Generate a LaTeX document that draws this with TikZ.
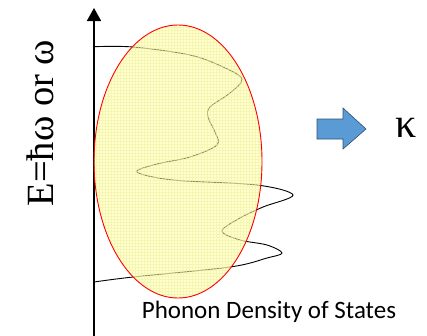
\documentclass[tikz,border=0pt]{standalone}
\usepackage{fontspec}
\setmainfont{Liberation Serif}
\newfontfamily\calib{Carlito}
\usetikzlibrary{arrows.meta,shapes.geometric}
\definecolor{fillY}{HTML}{FFFFB0}
\definecolor{gridY}{HTML}{EEEE90}
\definecolor{arrBlue}{HTML}{5B9BD5}
\definecolor{arrEdge}{HTML}{2F4F6F}
\tikzset{
  axisline/.style={line width=1.8pt,-{Triangle[length=13pt,width=14pt]}},
  dos/.style={line width=0.9pt,black},
  ellfill/.style={draw=none,fill=fillY,fill opacity=0.55},
  fatarrow/.style={fill=arrBlue,draw=arrEdge,line width=0.6pt,line join=miter},
  lbl/.style={inner sep=0pt,text=black}
}
\begin{document}
\begin{tikzpicture}[x=1pt,y=-1pt]
\useasboundingbox (0,0) rectangle (427,335);
% axis
\coordinate (axbot) at (94,340);
\coordinate (axtop) at (94,8);
\draw[axisline] (axbot) -- (axtop);
% density of states curve
\draw[dos] plot[smooth,tension=0.55] coordinates {
 (94,46.7) (133,47) (190,55) (223,67) (242,79) (230,93) (210,107) (208,117)
 (215,132) (217,145) (190,157) (157,164) (137,172) (173,180) (257,185) (293,195)
 (263,207) (240,218) (222,231) (240,240) (267,245) (282,253) (267,258) (230,267)
 (133,277) (94,282)};
% ellipse
\node[ellfill,ellipse,minimum width=168pt,minimum height=273pt,inner sep=0pt] (ell) at (178,161.5) {};
\begin{scope}
\clip (178,161.5) ellipse [x radius=84, y radius=136.5];
\draw[gridY,line width=0.3pt,opacity=0.5] (90,20) grid[step=3pt] (265,300);
\end{scope}
\draw[red,line width=0.9pt] (ell.center) ellipse [x radius=84, y radius=136.5];
% fat arrow
\draw[fatarrow] (317,119) -- (343,119) -- (343,108) -- (366,129) -- (343,149) -- (343,139) -- (317,139) -- cycle;
% labels
\node[lbl,rotate=90,anchor=base] (ylab) at (53,123) {\fontsize{38.5}{40}\selectfont E=ħω or ω};
\node[lbl] (kappa) at (406,128) {\fontsize{42}{44}\selectfont κ};
\node[lbl,anchor=base] (dostxt) at (269,318) {\calib\fontsize{25}{27}\selectfont Phonon Density of States};
\end{tikzpicture}
\end{document}
